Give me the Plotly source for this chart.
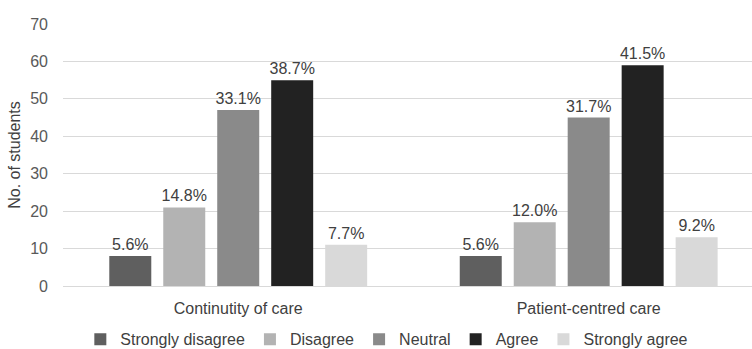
import plotly.graph_objects as go

categories = ["Continutity of care", "Patient-centred care"]
series_names = ["Strongly disagree", "Disagree", "Neutral", "Agree", "Strongly agree"]
strongly_disagree = [8, 8]
disagree = [21, 17]
neutral = [47, 45]
agree = [55, 59]
strongly_agree = [11, 13]
pct_strongly_disagree = ["5.6%", "5.6%"]
pct_disagree = ["14.8%", "12.0%"]
pct_neutral = ["33.1%", "31.7%"]
pct_agree = ["38.7%", "41.5%"]
pct_strongly_agree = ["7.7%", "9.2%"]
y_ticks = [0, 10, 20, 30, 40, 50, 60, 70]

values = [strongly_disagree, disagree, neutral, agree, strongly_agree]
labels = [pct_strongly_disagree, pct_disagree, pct_neutral, pct_agree, pct_strongly_agree]
colors = ["#5f5f5f", "#b3b3b3", "#8a8a8a", "#222222", "#d9d9d9"]

FONT = "Liberation Sans, Arial, sans-serif"
TXT = "#404040"

fig = go.Figure()
for name, vals, txt, col in zip(series_names, values, labels, colors):
    fig.add_trace(go.Bar(
        x=categories, y=vals, name=name,
        marker=dict(color=col, line=dict(width=0)),
        text=txt, textposition="outside", constraintext="none",
        textfont=dict(family=FONT, size=16, color=TXT),
        cliponaxis=False,
    ))

fig.update_layout(
    width=752, height=349,
    margin=dict(l=63, r=0, t=24, b=63),
    paper_bgcolor="white", plot_bgcolor="white",
    barmode="group", bargap=0.23, bargroupgap=0.222,
    font=dict(family=FONT, size=16, color=TXT),
    showlegend=True,
    legend=dict(
        orientation="h", x=0.47, xanchor="center",
        yref="container", y=0.028, yanchor="middle",
        font=dict(family=FONT, size=16, color=TXT),
        itemwidth=30, tracegroupgap=0,
    ),
)
fig.update_xaxes(
    type="category", range=[-0.5, 1.466],
    showgrid=False, showline=False, zeroline=False, ticks="",
    tickfont=dict(family=FONT, size=16, color=TXT),
    ticklabelstandoff=11, automargin=False,
)
fig.update_yaxes(
    range=[0, 70], tickvals=y_ticks,
    showgrid=True, gridcolor="#d9d9d9", gridwidth=1,
    zeroline=True, zerolinecolor="#d9d9d9", zerolinewidth=1,
    showline=False, ticks="",
    tickfont=dict(family=FONT, size=16, color="#595959"),
    ticklabelstandoff=14,
    title=dict(text="No. of students", font=dict(family=FONT, size=16, color=TXT), standoff=5),
    automargin=False,
)

fig.write_html("out.html")
